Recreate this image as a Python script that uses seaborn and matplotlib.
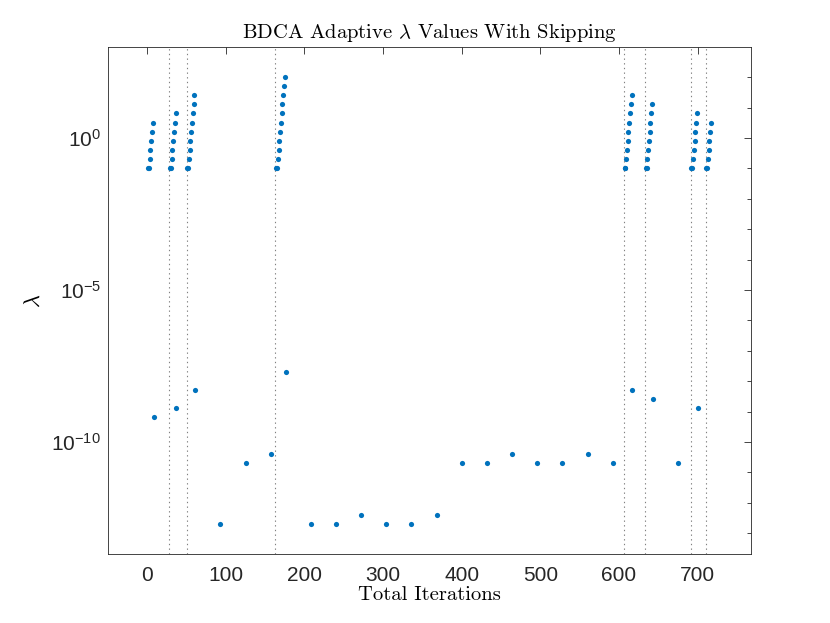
import numpy as np
import pandas as pd
import matplotlib
matplotlib.use("Agg")
import matplotlib.pyplot as plt
from matplotlib.ticker import FixedLocator, NullFormatter
import seaborn as sns

# lambda doubling bursts (line search succeeds, step grows)
burst_iters = [1, 2, 3, 4, 5, 6, 7,
               29, 30, 31, 32, 33, 34, 35, 36,
               51, 52, 53, 54, 55, 56, 57, 58, 59, 60,
               164, 165, 166, 167, 168, 169, 170, 171, 172, 173, 174, 175,
               607, 608, 609, 610, 611, 612, 613, 614, 615, 616,
               634, 635, 636, 637, 638, 639, 640, 641, 642,
               692, 693, 694, 695, 696, 697, 698, 699,
               711, 712, 713, 714, 715, 716, 717]
burst_lams = [0.1, 0.1, 0.2, 0.4, 0.8, 1.6, 3.2,
              0.1, 0.1, 0.2, 0.4, 0.8, 1.6, 3.2, 6.4,
              0.1, 0.1, 0.2, 0.4, 0.8, 1.6, 3.2, 6.4, 12.8, 25.6,
              0.1, 0.1, 0.2, 0.4, 0.8, 1.6, 3.2, 6.4, 12.8, 25.6, 51.2, 102.4,
              0.1, 0.1, 0.2, 0.4, 0.8, 1.6, 3.2, 6.4, 12.8, 25.6,
              0.1, 0.1, 0.2, 0.4, 0.8, 1.6, 3.2, 6.4, 12.8,
              0.1, 0.1, 0.2, 0.4, 0.8, 1.6, 3.2, 6.4,
              0.1, 0.1, 0.2, 0.4, 0.8, 1.6, 3.2]

# tiny lambda values (skipping iterations)
skip_iters = [8, 37, 61, 93, 125, 157, 176, 208, 240, 272, 304, 336, 368,
              400, 432, 464, 496, 528, 560, 592, 617, 643, 675, 700]
skip_lams = [6.5e-10, 1.3e-9, 5e-9, 2e-13, 2e-11, 4e-11, 2e-8, 2e-13, 2e-13,
             4e-13, 2e-13, 2e-13, 4e-13, 2e-11, 2e-11, 4e-11, 2e-11, 2e-11,
             4e-11, 2e-11, 5e-9, 2.5e-9, 2e-11, 1.3e-9]

# restart markers
restart_iters = [28, 50, 163, 606, 633, 691, 710]

sns.set_theme(style="white")
plt.rcParams["font.family"] = ["Liberation Sans", "DejaVu Sans"]
plt.rcParams["mathtext.fontset"] = "cm"
plt.rcParams["axes.unicode_minus"] = True

dark = (0.15, 0.15, 0.15)
blue = "#0072BD"

data = pd.DataFrame({
    "iter": burst_iters + skip_iters,
    "lam": burst_lams + skip_lams,
})

fig = plt.figure(figsize=(8.3, 6.23), dpi=100)
ax = fig.add_axes([0.13, 0.11, 0.775, 0.815])

for it in restart_iters:
    ax.axvline(it, color=(0.5, 0.5, 0.5), lw=0.8, ls=(0, (1.2, 3)), zorder=1)

sns.scatterplot(data=data, x="iter", y="lam", ax=ax, color=blue, s=14,
                linewidth=0, zorder=3, legend=False)

ax.set_yscale("log")
ax.set_xlim(-50, 768)
ax.set_ylim(2e-14, 1e3)
ax.set_xticks(np.arange(0, 701, 100))
ax.set_yticks([1e-10, 1e-5, 1e0])
ax.yaxis.set_minor_locator(FixedLocator(10.0 ** np.arange(-13, 3)))
ax.yaxis.set_minor_formatter(NullFormatter())

ax.tick_params(which="both", direction="in", top=True, right=True,
               color=dark, labelcolor=dark, width=0.6, labelsize=15)
ax.tick_params(which="major", length=5)
ax.tick_params(which="minor", length=2.6)
ax.tick_params(axis="x", pad=8)
ax.tick_params(axis="y", pad=5)
for sp in ax.spines.values():
    sp.set_color(dark)
    sp.set_linewidth(0.6)

ax.set_title(r"BDCA Adaptive $\lambda$ Values With Skipping",
             family="cmr10", fontsize=14.8, color="black", pad=6)
ax.set_xlabel("Total Iterations", family="cmr10", fontsize=14.8,
              color="black", labelpad=1)
ax.set_ylabel(r"$\lambda$", fontsize=16, color="black", labelpad=5)

fig.savefig("out.png", dpi=100, facecolor="white")
